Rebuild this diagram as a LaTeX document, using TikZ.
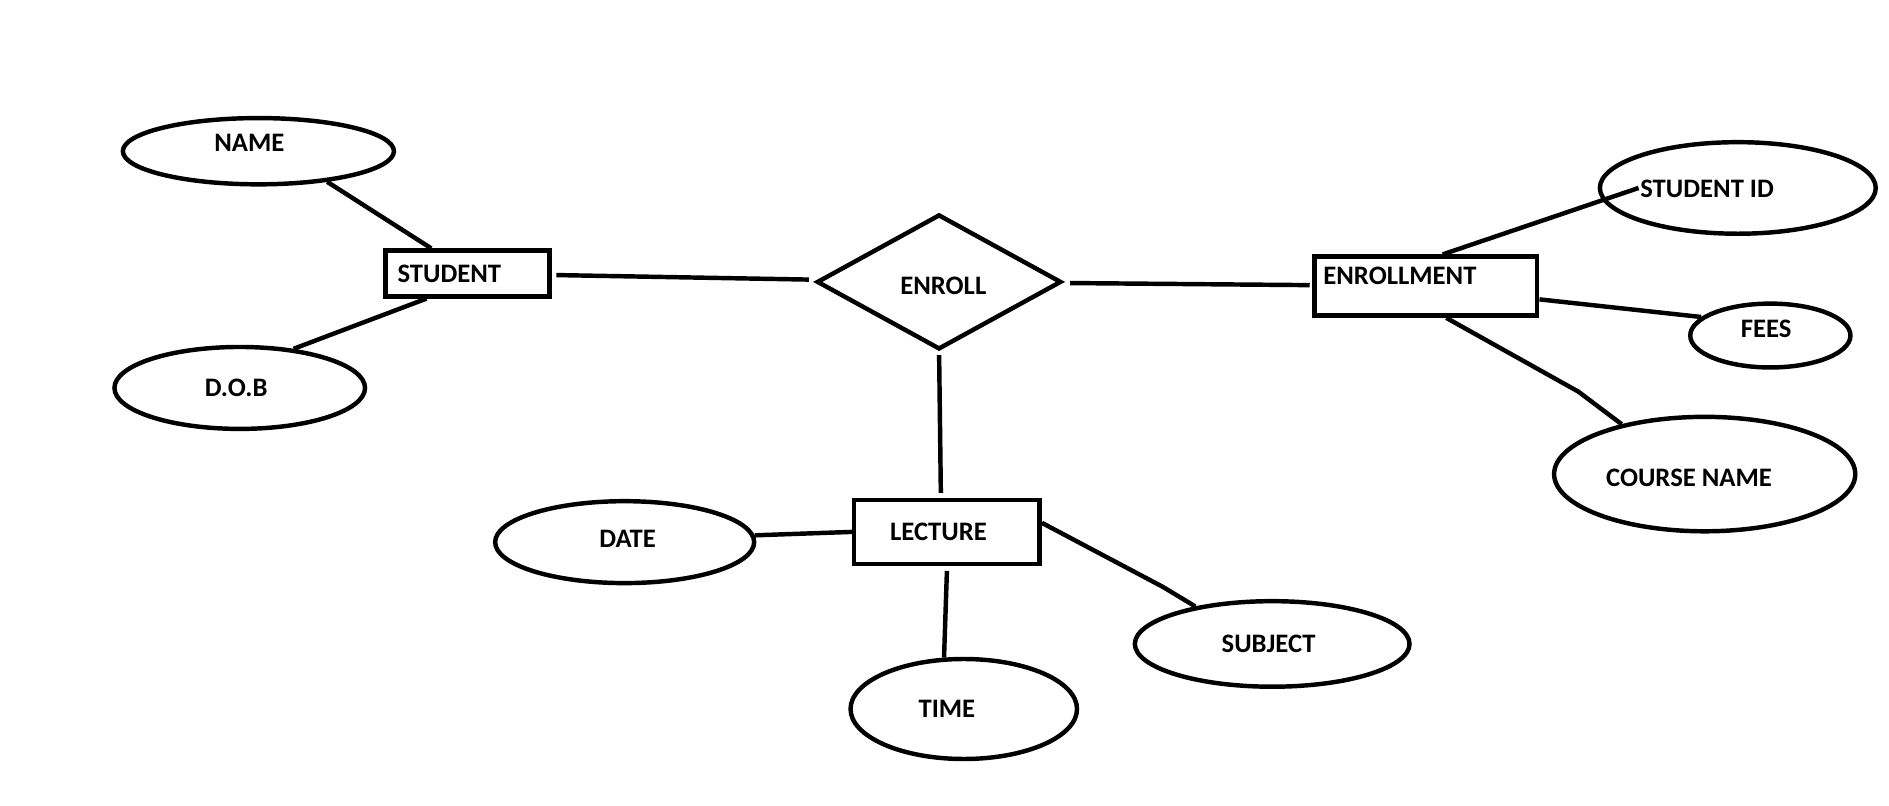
\documentclass[tikz,border=0pt]{standalone}
\usepackage{fontspec}
\setmainfont{Carlito}
\usetikzlibrary{shapes.geometric}
% text placed with offset (dx given twice), zero-size box
\newcommand{\offtxt}[3]{\raisebox{\dimexpr#2-0.0715cm\relax}[0pt][0pt]{\makebox[0pt]{\hspace*{#1}\hspace*{#1}#3}}}
\tikzset{
  base/.style={draw=black, line width=1.05pt, inner sep=0pt, font=\fontsize{6.3pt}{7pt}\selectfont\bfseries},
  attr/.style={base, ellipse},
  entity/.style={base, rectangle},
  rel/.style={base, diamond},
  conn/.style={line width=1.05pt, black}
}
\begin{document}
\begin{tikzpicture}
\fill[white] (0,0) rectangle (15.68,-6.69);
\useasboundingbox (0,0) rectangle (15.68,-6.69);

% entities
\node[entity, minimum width=1.36cm, minimum height=0.38cm] (student) at (3.88,-2.27) {\offtxt{-0.15cm}{0cm}{STUDENT}};
\node[entity, minimum width=1.85cm, minimum height=0.49cm] (enrollment) at (11.835,-2.375) {\offtxt{-0.215cm}{0.085cm}{ENROLLMENT}};
\node[entity, minimum width=1.54cm, minimum height=0.53cm] (lecture) at (7.86,-4.415) {\offtxt{-0.07cm}{0cm}{LECTURE}};

% relationship
\node[rel, minimum width=2.03cm, minimum height=1.12cm, aspect=1.8] (enroll) at (7.795,-2.34) {\offtxt{0.035cm}{-0.03cm}{ENROLL}};

% attributes
\node[attr, minimum width=2.25cm, minimum height=0.55cm] (name) at (2.145,-1.255) {\offtxt{-0.075cm}{0.065cm}{NAME}};
\node[attr, minimum width=2.08cm, minimum height=0.68cm] (dob) at (1.99,-3.22) {\offtxt{-0.03cm}{0cm}{D.O.B}};
\node[attr, minimum width=2.29cm, minimum height=0.76cm] (sid) at (14.425,-1.56) {\offtxt{-0.255cm}{-0.01cm}{STUDENT ID}};
\node[attr, minimum width=1.33cm, minimum height=0.53cm] (fees) at (14.695,-2.785) {\offtxt{-0.035cm}{0.055cm}{FEES}};
\node[attr, minimum width=2.50cm, minimum height=0.95cm] (course) at (14.15,-3.935) {\offtxt{-0.13cm}{-0.035cm}{COURSE NAME}};
\node[attr, minimum width=2.15cm, minimum height=0.68cm] (date) at (5.185,-4.50) {\offtxt{0.025cm}{0.03cm}{DATE}};
\node[attr, minimum width=1.88cm, minimum height=0.83cm] (time) at (8.00,-5.885) {\offtxt{-0.14cm}{0cm}{TIME}};
\node[attr, minimum width=2.28cm, minimum height=0.71cm] (subject) at (10.56,-5.345) {\offtxt{-0.03cm}{0cm}{SUBJECT}};

% bend points
\coordinate (k1) at (13.10,-3.25);
\coordinate (k2) at (9.65,-4.87);

% connectors
\draw[conn] (name.-24) -- ([xshift=-0.30cm]student.north);
\draw[conn] (dob.36) -- ([xshift=-0.34cm]student.south);
\draw[conn, shorten <=0.04cm, shorten >=0.08cm] (student) -- (enroll);
\draw[conn, shorten <=0.07cm, shorten >=0.02cm] (enroll) -- (enrollment);
\draw[conn] ([xshift=0.14cm]enrollment.north) -- ([xshift=0.34cm]sid.west);
\draw[conn] ([yshift=-0.11cm]enrollment.east) -- (fees.165);
\draw[conn] ([xshift=0.17cm]enrollment.south) -- (k1) -- (course.149);
\draw[conn, shorten <=0.03cm, shorten >=0.04cm] (enroll.south) -- ([xshift=-0.05cm]lecture.north);
\draw[conn] (date.3) -- (lecture.west);
\draw[conn] ([yshift=-0.04cm]lecture.south) -- (time.111);
\draw[conn] ([yshift=0.075cm]lecture.east) -- (k2) -- (subject.154);
\end{tikzpicture}
\end{document}
